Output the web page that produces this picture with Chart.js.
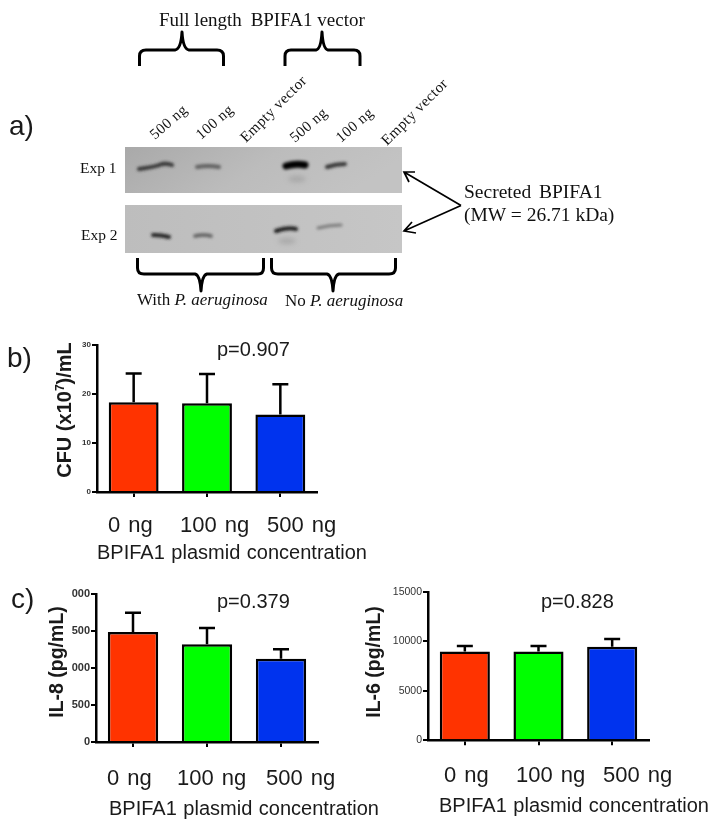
<!DOCTYPE html>
<html>
<head>
<meta charset="utf-8">
<title>BPIFA1</title>
<script src="https://cdn.jsdelivr.net/npm/chart.js@4/dist/chart.umd.min.js"></script>
<style>
  html, body { margin: 0; background: #fff; }
  #page { position: relative; width: 720px; height: 827px; overflow: hidden; filter: blur(0.5px); }
  canvas { position: absolute; }
  svg { position: absolute; left: 0; top: 0; pointer-events: none; }
  .serif { font-family: "Liberation Serif", serif; fill: #111; }
  .sans { font-family: "Liberation Sans", Arial, sans-serif; fill: #1a1a1a; }
</style>
</head>
<body>
<div id="page">
  <canvas id="cfuChart" width="330" height="180" style="left:0;top:330px"></canvas>
  <canvas id="il8Chart" width="330" height="180" style="left:0;top:580px"></canvas>
  <canvas id="il6Chart" width="330" height="180" style="left:360px;top:578px"></canvas>

  <svg id="overlay" width="720" height="827" xmlns="http://www.w3.org/2000/svg">
    <defs>
      <filter id="soft" x="-30%" y="-100%" width="160%" height="300%"><feGaussianBlur stdDeviation="1.4"/></filter>
      <filter id="softer" x="-50%" y="-150%" width="200%" height="400%"><feGaussianBlur stdDeviation="2.8"/></filter>
      <linearGradient id="blotTop" x1="0" y1="0" x2="1" y2="0.25">
        <stop offset="0" stop-color="#a9a9a9"/>
        <stop offset="0.55" stop-color="#bcbcbc"/>
        <stop offset="1" stop-color="#c3c3c3"/>
      </linearGradient>
      <linearGradient id="blotBottom" x1="0" y1="0" x2="1" y2="0">
        <stop offset="0" stop-color="#bdbdbd"/>
        <stop offset="1" stop-color="#c6c6c6"/>
      </linearGradient>
    </defs>

    <!-- panel a: western blot -->
    <rect x="125" y="147" width="277" height="46" fill="url(#blotTop)"/>
    <rect x="125" y="205" width="277" height="48" fill="url(#blotBottom)"/>
    <g filter="url(#softer)" fill="#8f8f8f" opacity="0.5">
      <ellipse cx="297" cy="179" rx="9" ry="3"/>
      <ellipse cx="287" cy="241" rx="9" ry="3"/>
    </g>
    <g filter="url(#soft)" fill="none" stroke-linecap="round">
      <path d="M139 169 Q155 167 162 164 Q168 163 172 165" stroke="#333" stroke-width="4"/>
      <path d="M197 167 Q208 165 219 167" stroke="#5f5f5f" stroke-width="4"/>
      <path d="M286 166 Q296 163 305 165" stroke="#000" stroke-width="7"/>
      <path d="M327 167 Q336 164 345 164" stroke="#333" stroke-width="4"/>
      <path d="M153 235 Q162 235 169 237" stroke="#222" stroke-width="4"/>
      <path d="M195 236 Q204 234 211 236" stroke="#5e5e5e" stroke-width="3.500"/>
      <path d="M276 231 Q287 227 296 229" stroke="#1a1a1a" stroke-width="4"/>
      <path d="M318 228 Q330 225 341 225" stroke="#7a7a7a" stroke-width="3"/>
    </g>

    <g fill="none" stroke="#000" stroke-width="3" stroke-linejoin="round">
      <path d="M139.500 66 L139.500 56 Q139.500 50 146 50 L175 50 Q181 49 182 32 Q183 49 189 50 L217 50 Q223.500 50 223.500 56 L223.500 66"/>
      <path d="M285 66 L285 56 Q285 50 291 50 L316 50 Q321 49 322 32 Q323 49 328 50 L354 50 Q360 50 360 56 L360 66"/>
      <path d="M137.500 258 L137.500 268 Q137.500 274 144 274 L195 274 Q200 275 201 291 Q202 275 207 274 L258 274 Q263.500 274 263.500 268 L263.500 258"/>
      <path d="M271.500 258 L271.500 268 Q271.500 274 278 274 L327 274 Q332 275 333 291 Q334 275 339 274 L389 274 Q395.500 274 395.500 268 L395.500 258"/>
    </g>
    <g fill="none" stroke="#000" stroke-width="1.700">
      <path d="M461 205.500 L404 172 M415 172 L404 172 L409 182"/>
      <path d="M461 205.500 L404 231 M416 233 L404 231 L412 222"/>
    </g>

    <text class="serif" x="159" y="26" font-size="19">Full length  <tspan dx="4">BPIFA1 vector</tspan></text>
    <text class="serif" font-size="15" letter-spacing="0.500" transform="translate(155 140) rotate(-41)">500 ng</text>
    <text class="serif" font-size="15" letter-spacing="0.500" transform="translate(201 140) rotate(-41)">100 ng</text>
    <text class="serif" font-size="15" letter-spacing="0.500" transform="translate(246 143) rotate(-45)">Empty vector</text>
    <text class="serif" font-size="15" letter-spacing="0.500" transform="translate(295 143) rotate(-41)">500 ng</text>
    <text class="serif" font-size="15" letter-spacing="0.500" transform="translate(341 143) rotate(-41)">100 ng</text>
    <text class="serif" font-size="15" letter-spacing="0.500" transform="translate(387 146) rotate(-45)">Empty vector</text>
    <text class="serif" x="80" y="173" font-size="15.500">Exp 1</text>
    <text class="serif" x="81" y="240" font-size="15.500">Exp 2</text>
    <text class="serif" x="137" y="305" font-size="17">With <tspan font-style="italic">P. aeruginosa</tspan></text>
    <text class="serif" x="285" y="306" font-size="17">No <tspan font-style="italic">P. aeruginosa</tspan></text>
    <text class="serif" x="464" y="198" font-size="19.500">Secreted  <tspan dx="3">BPIFA1</tspan></text>
    <text class="serif" x="464" y="221" font-size="19.500">(MW = 26.71 kDa)</text>

    <text class="sans" x="9" y="135" font-size="28">a)</text>
    <text class="sans" x="7" y="367" font-size="28">b)</text>
    <text class="sans" x="11" y="608" font-size="28">c)</text>
    <text class="sans" x="217" y="356" font-size="20">p=0.907</text>
    <text class="sans" x="217" y="608" font-size="20">p=0.379</text>
    <text class="sans" x="541" y="608" font-size="20">p=0.828</text>

    <text class="sans" font-weight="bold" font-size="20" text-anchor="middle" transform="translate(70.500 410) rotate(-90)">CFU (x10<tspan font-size="12" dy="-7">7</tspan><tspan dy="7">)/mL</tspan></text>
    <text class="sans" font-weight="bold" font-size="19.500" text-anchor="middle" transform="translate(62.500 662) rotate(-90)">IL-8  (pg/mL)</text>
    <text class="sans" font-weight="bold" font-size="19.500" text-anchor="middle" transform="translate(380 662) rotate(-90)">IL-6  (pg/mL)</text>
  </svg>
</div>

<script>
const doseLabels = ['0 ng', '100 ng', '500 ng'];
const barColors = ['#ff3300', '#00ff00', '#0033ee'];
const xAxisName = 'BPIFA1 plasmid concentration';

const cfuValues = [18.3, 18.1, 15.8];
const cfuTops = [24.2, 24.1, 22];
const cfuTicks = ['0', '10', '20', '30'];

const il8Values = [1488, 1321, 1124];
const il8Tops = [1748, 1542, 1254];
const il8Ticks = ['0', '500', '000', '500', '000'];

const il6Values = [8970, 8970, 9470];
const il6Tops = [9540, 9540, 10250];
const il6Ticks = ['0', '5000', '10000', '15000'];

// whiskers only go upwards, like the original figure
const errorBars = {
    id: 'errorBars',
    beforeDatasetsDraw(chart, args, opts) {
        const ctx = chart.ctx;
        const meta = chart.getDatasetMeta(0);
        const y = chart.scales.y;
        ctx.save();
        ctx.strokeStyle = '#000';
        ctx.lineWidth = 2.5;
        opts.tops.forEach((top, i) => {
            const x = meta.data[i].x;
            const yTop = y.getPixelForValue(top);
            ctx.beginPath();
            ctx.moveTo(x, y.getPixelForValue(chart.data.datasets[0].data[i]));
            ctx.lineTo(x, yTop);
            ctx.moveTo(x - 8, yTop);
            ctx.lineTo(x + 8, yTop);
            ctx.stroke();
        });
        ctx.restore();
    }
};

const makeChart = (id, values, tops, tickLabels, maxValue, step, tickFont, box) => {
    return new Chart(document.getElementById(id), {
        type: 'bar',
        data: {
            labels: doseLabels,
            datasets: [{
                data: values,
                backgroundColor: barColors,
                borderColor: '#000',
                borderWidth: 2.5,
                barPercentage: 0.68,
                categoryPercentage: 1
            }]
        },
        plugins: [errorBars],
        options: {
            responsive: false,
            animation: false,
            layout: { padding: { top: box.top, right: box.right } },
            plugins: {
                legend: { display: false },
                tooltip: { enabled: false },
                errorBars: { tops: tops }
            },
            scales: {
                x: {
                    afterFit: s => { s.height = box.bottom; },
                    border: { color: '#000', width: 2.5 },
                    grid: { offset: false, drawOnChartArea: false, color: '#000', lineWidth: 2, tickLength: 5 },
                    ticks: { display: false }
                },
                y: {
                    min: 0,
                    max: maxValue,
                    afterFit: s => { s.width = box.left; },
                    border: { color: '#000', width: 2.5 },
                    grid: { drawOnChartArea: false, color: '#000', lineWidth: 2, tickLength: 5 },
                    ticks: {
                        stepSize: step,
                        padding: 1,
                        color: '#333',
                        font: tickFont,
                        callback: (v, i) => tickLabels[i]
                    }
                }
            }
        }
    });
};

const font = 'Liberation Sans, Arial, sans-serif';
makeChart('cfuChart', cfuValues, cfuTops, cfuTicks, 30, 10,
    { family: font, size: 8, weight: 'bold' }, { left: 97, top: 15, right: 13, bottom: 18 });
makeChart('il8Chart', il8Values, il8Tops, il8Ticks, 2000, 500,
    { family: font, size: 11, weight: 'bold' }, { left: 96, top: 14, right: 12, bottom: 18 });
makeChart('il6Chart', il6Values, il6Tops, il6Ticks, 15000, 5000,
    { family: font, size: 10.5 }, { left: 68, top: 14, right: 41, bottom: 17.7 });

// the dose labels and axis names sit off the tick positions in the original
const overlay = document.getElementById('overlay');
const putText = (text, x, y, size, gap) => {
    const t = document.createElementNS('http://www.w3.org/2000/svg', 'text');
    t.setAttribute('class', 'sans');
    t.setAttribute('x', x);
    t.setAttribute('y', y);
    t.setAttribute('font-size', size);
    t.setAttribute('word-spacing', gap);
    t.textContent = text;
    overlay.appendChild(t);
};
[108, 180, 267].forEach((x, i) => putText(doseLabels[i], x, 532, 22, 2));
[107, 177, 266].forEach((x, i) => putText(doseLabels[i], x, 785, 22, 2));
[444, 516, 603].forEach((x, i) => putText(doseLabels[i], x, 782, 22, 2));
putText(xAxisName, 97, 559, 20, 1);
putText(xAxisName, 109, 815, 20, 1);
putText(xAxisName, 439, 812, 20, 1);
</script>
</body>
</html>
